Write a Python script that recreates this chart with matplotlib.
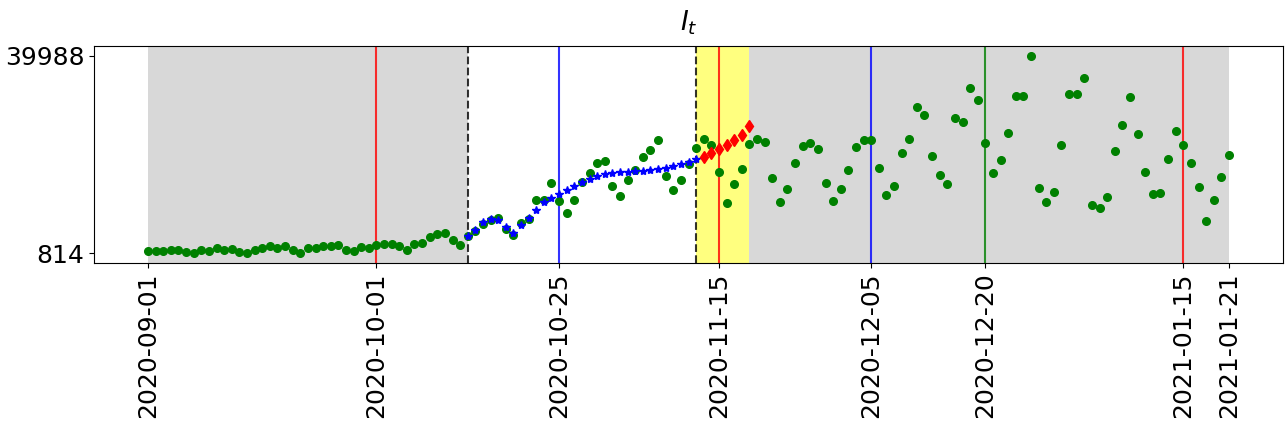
import numpy as np
import pandas as pd
import matplotlib
matplotlib.use("Agg")
import matplotlib.pyplot as plt

start_date = "2020-09-01"
observed = [
    1210, 1210, 1210, 1407, 1407, 1012, 814, 1407, 1210, 1803,
    1407, 1605, 1012, 880, 1407, 1803, 2199, 1803, 2199, 1407,
    850, 1803, 1803, 2199, 2199, 2396, 1407, 1210, 2001, 1803,
    2396, 2594, 2594, 2199, 1407, 2594, 2792, 3979, 4572, 4770,
    3385, 2396, 4177, 5166, 6550, 7341, 7737, 5561, 4434, 6748,
    7539, 11297, 11297, 14660, 11100, 8785, 11297, 14858, 16638, 18616,
    19012, 14067, 12089, 15253, 17231, 20001, 21385, 23363, 16045, 13275,
    15253, 18418, 21781, 23561, 22374, 16836, 10704, 14462, 17429, 22572,
    23561, 22968, 15649, 10902, 13473, 18616, 22176, 22770, 21583, 14660,
    11100, 13473, 17231, 21979, 23363, 23363, 17627, 12286, 14067, 20792,
    23561, 29891, 28308, 20198, 16242, 14462, 27715, 26924, 33649, 31275,
    22770, 16638, 19407, 24748, 32066, 32066, 39988, 13671, 10902, 12880,
    22374, 32462, 32462, 35627, 10308, 9715, 11891, 21187, 26330, 31869,
    24550, 16836, 12484, 12682, 19605, 25143, 22374, 18616, 13869, 7144,
    11297, 15847, 20396,
]
fit_start = "2020-10-13"
fitted = [
    4177, 5482, 7064, 7539, 7341, 5957, 4770, 6352, 7737, 9379,
    10902, 11693, 12484, 13275, 14126, 14858, 15511, 16045, 16440, 16638,
    16836, 16900, 17034, 17100, 17231, 17429, 17746, 18023, 18418, 18814,
    19467,
]
pred_start = "2020-11-13"
predicted = [20001, 20792, 21583, 22374, 23363, 24273, 26132]

gray_spans = [("2020-09-01", "2020-10-13"), ("2020-11-19", "2021-01-21")]
yellow_span = ("2020-11-12", "2020-11-19")
vlines = [("2020-10-01", "red"), ("2020-10-25", "blue"), ("2020-11-15", "red"),
          ("2020-12-05", "blue"), ("2020-12-20", "green"), ("2021-01-15", "red")]
dashed = ["2020-10-13", "2020-11-12"]
xtick_labels = ["2020-09-01", "2020-10-01", "2020-10-25", "2020-11-15",
                "2020-12-05", "2020-12-20", "2021-01-15", "2021-01-21"]

d_obs = pd.date_range(start_date, periods=len(observed), freq="D")
d_fit = pd.date_range(fit_start, periods=len(fitted), freq="D")
d_pred = pd.date_range(pred_start, periods=len(predicted), freq="D")

fig = plt.figure(figsize=(12.88, 4.24), dpi=100)
ax = fig.add_axes([94/1288, 1-263/424, (1283-94)/1288, (263-46)/424])

for a, b in gray_spans:
    ax.axvspan(pd.Timestamp(a), pd.Timestamp(b), color="gray", alpha=0.3, lw=0)
ax.axvspan(pd.Timestamp(yellow_span[0]), pd.Timestamp(yellow_span[1]),
           color="yellow", alpha=0.5, lw=0)
for d, c in vlines:
    ax.axvline(pd.Timestamp(d), color=c, alpha=0.8, lw=1.5)
for d in dashed:
    ax.axvline(pd.Timestamp(d), color="k", ls="--", alpha=0.8, lw=1.5)

ax.plot(d_obs, observed, "o", color="green", ms=5.5, zorder=3)
ax.plot(d_fit, fitted, "*", color="blue", ms=6, zorder=4)
ax.plot(d_pred, predicted, "d", color="red", ms=6.5, zorder=4)

ax.set_xticks([pd.Timestamp(t) for t in xtick_labels])
ax.set_xticklabels(xtick_labels, rotation=90, fontsize=18)
ax.set_yticks([min(observed), max(observed)])
ax.set_yticklabels([str(min(observed)), str(max(observed))], fontsize=18)
ax.set_title("$I_t$", fontsize=19, pad=11)

fig.savefig("out.png", dpi=100)
